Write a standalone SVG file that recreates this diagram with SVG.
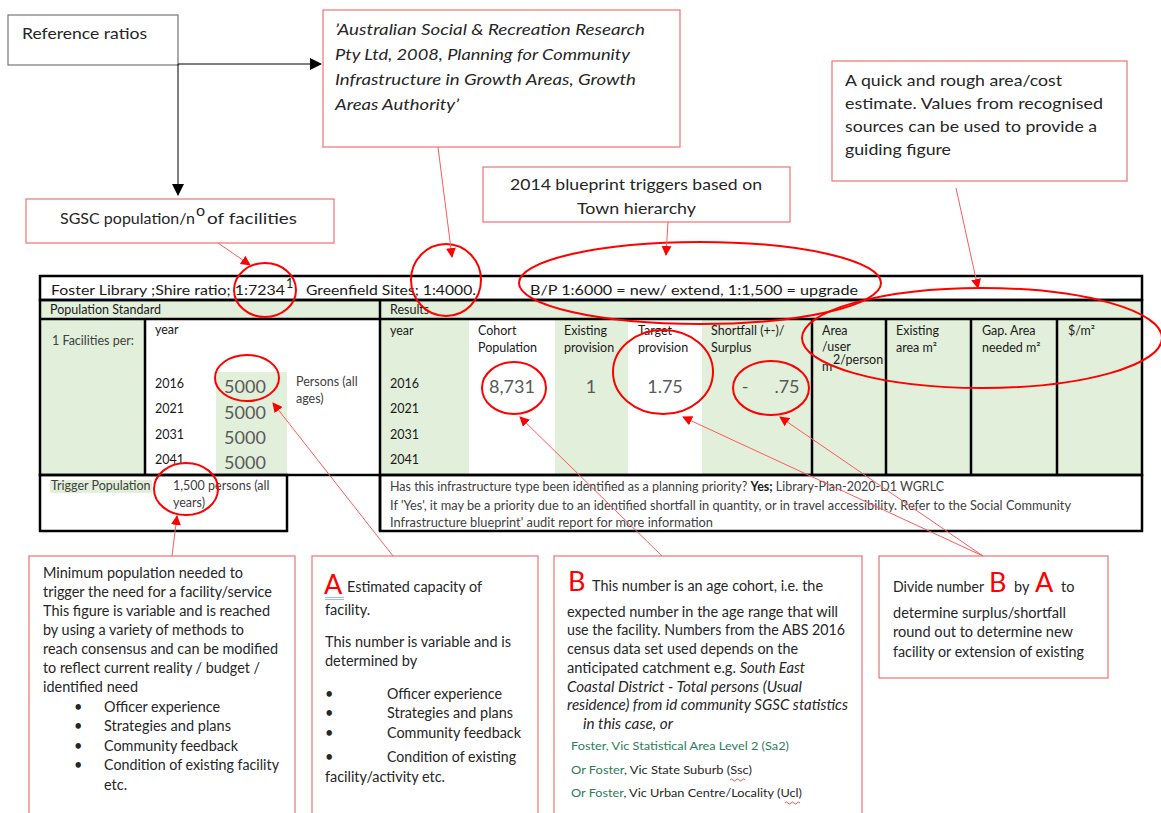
<svg xmlns="http://www.w3.org/2000/svg" width="1161" height="813" viewBox="0 0 1161 813">
<style>
.bg{fill:#fff}
.box{fill:#fff;stroke:#f27c7c;stroke-width:1.3}
.gbox{fill:#fff;stroke:#808080;stroke-width:1.3}
text{font-family:Lato,"Liberation Sans",sans-serif}
.t{fill:#262626;font-size:16px}
.it{font-style:italic}
.s{fill:#262626;font-size:14.5px}
.h{fill:#1a1a1a;font-size:12.5px}
.g{fill:#404040;font-size:12.5px}
.v{fill:#595959;font-size:18px;text-anchor:middle}
.ring{fill:none;stroke:#ff0000;stroke-width:2}
.rl{stroke:#ff5a5a;stroke-width:1;fill:none;marker-end:url(#ra)}
.bl{stroke:#000;stroke-width:1;fill:none;marker-end:url(#ba)}
.grn{fill:#e2efda}
.bd{stroke:#000;stroke-width:2.5;fill:none}
.big{fill:#ff0000;font-size:27px}
.gt{fill:#2e7d5b}
.sm{font-size:12px}
</style>
<defs>
<marker id="ra" markerWidth="10" markerHeight="10" refX="9" refY="5" orient="auto" markerUnits="userSpaceOnUse"><path d="M0,0 L10,5 L0,10 z" fill="#ff0000"/></marker>
<marker id="ba" markerWidth="12" markerHeight="12" refX="11" refY="6" orient="auto" markerUnits="userSpaceOnUse"><path d="M0,0 L12,6 L0,12 z" fill="#000"/></marker>
</defs>
<rect class="bg" x="0" y="0" width="1161" height="813"/>

<g id="ref-ratios">
<rect class="gbox" x="8" y="15" width="170" height="50"/>
<text class="t" x="22" y="39" textLength="125" lengthAdjust="spacingAndGlyphs">Reference ratios</text>
</g>

<g id="source-quote">
<rect class="box" x="323" y="10" width="357" height="137"/>
<text class="t it" x="335" y="35" textLength="310" lengthAdjust="spacingAndGlyphs">’Australian Social &amp; Recreation Research</text>
<text class="t it" x="335" y="60" textLength="295" lengthAdjust="spacingAndGlyphs">Pty Ltd, 2008, Planning for Community</text>
<text class="t it" x="335" y="85" textLength="301" lengthAdjust="spacingAndGlyphs">Infrastructure in Growth Areas, Growth</text>
<text class="t it" x="335" y="110" textLength="124" lengthAdjust="spacingAndGlyphs">Areas Authority’</text>
</g>

<g id="cost-estimate">
<rect class="box" x="832" y="61" width="295" height="120"/>
<text class="t" x="845" y="86" textLength="217" lengthAdjust="spacingAndGlyphs">A quick and rough area/cost</text>
<text class="t" x="845" y="109" textLength="258" lengthAdjust="spacingAndGlyphs">estimate. Values from recognised</text>
<text class="t" x="845" y="132" textLength="252" lengthAdjust="spacingAndGlyphs">sources can be used to provide a</text>
<text class="t" x="845" y="155" textLength="106" lengthAdjust="spacingAndGlyphs">guiding figure</text>
</g>

<g id="blueprint">
<rect class="box" x="483" y="167" width="307" height="55"/>
<text class="t" x="510" y="190" textLength="252" lengthAdjust="spacingAndGlyphs">2014 blueprint triggers based on</text>
<text class="t" x="577" y="214" textLength="119" lengthAdjust="spacingAndGlyphs">Town hierarchy</text>
</g>

<g id="sgsc">
<rect class="box" x="26" y="199" width="308" height="44"/>
<text class="t" x="60" y="224" textLength="135" lengthAdjust="spacingAndGlyphs">SGSC population/n</text>
<text class="t" x="196" y="216" font-size="9">o</text>
<text class="t" x="207" y="224" textLength="90" lengthAdjust="spacingAndGlyphs">of facilities</text>
</g>

<g id="table">
<rect class="grn" x="40" y="300" width="1102" height="19"/>
<rect class="grn" x="40" y="319" width="105" height="156"/>
<rect class="grn" x="216" y="372" width="71" height="103"/>
<rect class="grn" x="380" y="319" width="89" height="156"/>
<rect class="grn" x="555" y="319" width="73" height="156"/>
<rect class="grn" x="702" y="319" width="440" height="156"/>
<rect class="grn" x="50" y="480" width="102" height="13"/>
<rect class="bd" x="40" y="276" width="1102" height="24"/>
<rect class="bd" x="40" y="300" width="1102" height="175"/>
<path class="bd" d="M40,319 H1142 M145,319 V475 M380,300 V531 M812,319 V475 M886,319 V475 M971,319 V475 M1057,319 V475"/>
<rect class="bd" x="40" y="475" width="247" height="56"/>
<rect class="bd" x="380" y="475" width="762" height="56"/>

<text class="h" font-size="16" x="51" y="295" textLength="234" lengthAdjust="spacingAndGlyphs">Foster  Library ;Shire ratio; 1:7234</text>
<text class="h" x="286" y="288" font-size="9">1</text>
<text class="h" font-size="16" x="306" y="295" textLength="170" lengthAdjust="spacingAndGlyphs">Greenfield Sites; 1:4000.</text>
<text class="h" font-size="16" x="530" y="295" textLength="328" lengthAdjust="spacingAndGlyphs">B/P  1:6000  = new/ extend,  1:1,500 = upgrade</text>
<path d="M51,298.5 H149 M564,298.5 H612" stroke="#6f8fc9" stroke-width="1"/>

<text class="h" x="50" y="314">Population Standard</text>
<text class="h" x="390" y="314">Results</text>
<text class="g" x="52" y="345" fill="#595959">1 Facilities per:</text>
<text class="h" x="155" y="334">year</text>
<text class="h" x="155" y="388">2016</text>
<text class="h" x="155" y="413">2021</text>
<text class="h" x="155" y="439">2031</text>
<text class="h" x="155" y="464">2041</text>
<text class="v" x="245" y="393">5000</text>
<text class="v" x="245" y="419">5000</text>
<text class="v" x="245" y="444">5000</text>
<text class="v" x="245" y="469">5000</text>
<text class="g" x="296" y="386">Persons (all</text>
<text class="g" x="296" y="403">ages)</text>
<text class="g" x="51" y="490" fill="#595959">Trigger Population</text>
<text class="g" x="173" y="490">1,500 persons (all</text>
<text class="g" x="173" y="507">years)</text>

<text class="h" x="390" y="335">year</text>
<text class="h" x="478" y="335">Cohort</text>
<text class="h" x="478" y="352">Population</text>
<text class="h" x="564" y="335">Existing</text>
<text class="h" x="564" y="352">provision</text>
<text class="h" x="638" y="335">Target</text>
<text class="h" x="638" y="352">provision</text>
<text class="h" x="711" y="335">Shortfall (+-)/</text>
<text class="h" x="711" y="352">Surplus</text>
<text class="h" x="822" y="335">Area</text>
<text class="h" x="822" y="351">/user</text>
<text class="h" x="822" y="371">m</text>
<text class="h" x="833" y="364" font-size="7.5">2/person</text>
<text class="h" x="896" y="335">Existing</text>
<text class="h" x="896" y="352">area m²</text>
<text class="h" x="982" y="335">Gap. Area</text>
<text class="h" x="982" y="352">needed m²</text>
<text class="h" x="1068" y="335">$/m²</text>
<text class="h" x="390" y="388">2016</text>
<text class="h" x="390" y="413">2021</text>
<text class="h" x="390" y="439">2031</text>
<text class="h" x="390" y="464">2041</text>
<text class="v" x="512" y="393" fill="#5b8bb5">8,731</text>
<text class="v" x="591" y="393">1</text>
<text class="v" x="665" y="393">1.75</text>
<text class="v" x="745" y="393">-</text>
<text class="v" x="787" y="393">.75</text>

<text class="g" x="390" y="491" textLength="554" lengthAdjust="spacingAndGlyphs">Has this infrastructure type been identified as a planning priority? <tspan font-weight="bold" fill="#1a1a1a">Yes;</tspan> Library-Plan-2020-D1 WGRLC</text>
<text class="g" x="390" y="510" textLength="681" lengthAdjust="spacingAndGlyphs">If 'Yes', it may be a priority due to an identified shortfall in quantity, or in travel accessibility. Refer to the Social Community</text>
<text class="g" x="390" y="527" textLength="323" lengthAdjust="spacingAndGlyphs">Infrastructure blueprint' audit report for more information</text>
</g>

<g id="box-trigger">
<rect class="box" x="29" y="556" width="266" height="270"/>
<text class="s" x="43" y="578" textLength="200" lengthAdjust="spacingAndGlyphs">Minimum population needed to</text>
<text class="s" x="43" y="597" textLength="229" lengthAdjust="spacingAndGlyphs">trigger the need for a facility/service</text>
<text class="s" x="43" y="616" textLength="227" lengthAdjust="spacingAndGlyphs">This figure is variable and is reached</text>
<text class="s" x="43" y="635" textLength="201" lengthAdjust="spacingAndGlyphs">by using a variety of methods to</text>
<text class="s" x="43" y="654" textLength="235" lengthAdjust="spacingAndGlyphs">reach consensus and can be modified</text>
<text class="s" x="43" y="673" textLength="217" lengthAdjust="spacingAndGlyphs">to reflect current reality / budget /</text>
<text class="s" x="43" y="692" textLength="95" lengthAdjust="spacingAndGlyphs">identified need</text>
<text class="s" x="74" y="712">•</text><text class="s" x="104" y="712" textLength="116" lengthAdjust="spacingAndGlyphs">Officer experience</text>
<text class="s" x="74" y="731">•</text><text class="s" x="104" y="731" textLength="127" lengthAdjust="spacingAndGlyphs">Strategies and plans</text>
<text class="s" x="74" y="751">•</text><text class="s" x="104" y="751" textLength="134" lengthAdjust="spacingAndGlyphs">Community feedback</text>
<text class="s" x="74" y="770">•</text><text class="s" x="104" y="770" textLength="175" lengthAdjust="spacingAndGlyphs">Condition of existing facility</text>
<text class="s" x="104" y="790">etc.</text>
</g>

<g id="box-A">
<rect class="box" x="312" y="556" width="226" height="270"/>
<text class="big" x="324" y="594">A</text>
<path d="M325,597.5 H344 M325,599.5 H344" stroke="#8ea9db" stroke-width="0.8"/>
<text class="s" x="347" y="592" textLength="135" lengthAdjust="spacingAndGlyphs">Estimated capacity of</text>
<text class="s" x="325" y="615">facility.</text>
<text class="s" x="325" y="647" textLength="186" lengthAdjust="spacingAndGlyphs">This number is variable and is</text>
<text class="s" x="325" y="666">determined by</text>
<text class="s" x="325" y="699">•</text><text class="s" x="387" y="699" textLength="115" lengthAdjust="spacingAndGlyphs">Officer experience</text>
<text class="s" x="325" y="718">•</text><text class="s" x="387" y="718" textLength="126" lengthAdjust="spacingAndGlyphs">Strategies and plans</text>
<text class="s" x="325" y="738">•</text><text class="s" x="387" y="738" textLength="134" lengthAdjust="spacingAndGlyphs">Community feedback</text>
<text class="s" x="325" y="762">•</text><text class="s" x="387" y="762" textLength="129" lengthAdjust="spacingAndGlyphs">Condition of existing</text>
<text class="s" x="325" y="782" textLength="120" lengthAdjust="spacingAndGlyphs">facility/activity etc.</text>
</g>

<g id="box-B">
<rect class="box" x="554" y="556" width="308" height="270"/>
<text class="big" x="568" y="591">B</text>
<text class="s" x="592" y="591" textLength="231" lengthAdjust="spacingAndGlyphs">This number is an age cohort, i.e. the</text>
<text class="s" x="567" y="617" textLength="271" lengthAdjust="spacingAndGlyphs">expected number in the age range that will</text>
<text class="s" x="567" y="635" textLength="278" lengthAdjust="spacingAndGlyphs">use the facility. Numbers from the ABS 2016</text>
<text class="s" x="567" y="654" textLength="231" lengthAdjust="spacingAndGlyphs">census data set used depends on the</text>
<text class="s" x="567" y="673" textLength="238" lengthAdjust="spacingAndGlyphs">anticipated catchment e.g. <tspan font-style="italic">South East</tspan></text>
<text class="s it" x="567" y="692" textLength="235" lengthAdjust="spacingAndGlyphs">Coastal District - Total persons (Usual</text>
<text class="s it" x="567" y="710" textLength="281" lengthAdjust="spacingAndGlyphs">residence) from id community SGSC statistics</text>
<text class="s it" x="583" y="729" textLength="90" lengthAdjust="spacingAndGlyphs">in this case, or</text>
<text class="s gt sm" x="571" y="750" textLength="218" lengthAdjust="spacingAndGlyphs">Foster, Vic Statistical Area Level 2 (Sa2)</text>
<text class="s sm" x="571" y="774" textLength="181" lengthAdjust="spacingAndGlyphs"><tspan class="gt">Or Foster</tspan>, Vic State Suburb (Ssc)</text>
<text class="s sm" x="571" y="797" textLength="231" lengthAdjust="spacingAndGlyphs"><tspan class="gt">Or Foster</tspan>, Vic Urban Centre/Locality (Ucl)</text>
<path d="M730,780 q1.5,-2 3,0 t3,0 t3,0 t3,0 t3,0 M785,803 q1.5,-2 3,0 t3,0 t3,0 t3,0 t3,0" stroke="#e03030" stroke-width="0.8" fill="none"/>
</g>

<g id="box-divide">
<rect class="box" x="879" y="556" width="229" height="122"/>
<text class="s" x="893" y="592" font-size="13.5" textLength="91" lengthAdjust="spacingAndGlyphs">Divide number</text>
<text class="big" x="989" y="592">B</text>
<text class="s" x="1014" y="592">by</text>
<text class="big" x="1035" y="592">A</text>
<text class="s" x="1061" y="592">to</text>
<text class="s" x="893" y="618" textLength="173" lengthAdjust="spacingAndGlyphs">determine surplus/shortfall</text>
<text class="s" x="893" y="637" textLength="180" lengthAdjust="spacingAndGlyphs">round out to determine new</text>
<text class="s" x="893" y="657" textLength="191" lengthAdjust="spacingAndGlyphs">facility or extension of existing</text>
</g>

<g id="highlights">
<ellipse class="ring" cx="265" cy="290" rx="31" ry="27"/>
<ellipse class="ring" cx="446" cy="280" rx="35" ry="36"/>
<ellipse class="ring" cx="700" cy="283" rx="181" ry="41"/>
<ellipse class="ring" cx="982" cy="338" rx="180" ry="50"/>
<ellipse class="ring" cx="247" cy="378" rx="32" ry="23"/>
<ellipse class="ring" cx="186" cy="489" rx="32" ry="26"/>
<ellipse class="ring" cx="514" cy="388" rx="32" ry="26"/>
<ellipse class="ring" cx="663" cy="372" rx="50" ry="42"/>
<ellipse class="ring" cx="771" cy="388" rx="38" ry="27"/>
</g>

<g id="connectors">
<path class="bl" d="M178,64 H321"/>
<path class="bl" d="M178,64 V195"/>
<path class="rl" d="M218,243 L250,265"/>
<path class="rl" d="M438,147 L452,257"/>
<path class="rl" d="M668,222 L666,255"/>
<path class="rl" d="M956,188 L978,288"/>
<path class="rl" d="M172,556 L177,516"/>
<path class="rl" d="M393,556 L273,403"/>
<path class="rl" d="M662,556 L520,417"/>
<path class="rl" d="M983,556 L683,417"/>
<path class="rl" d="M983,556 L780,417"/>
</g>
</svg>
